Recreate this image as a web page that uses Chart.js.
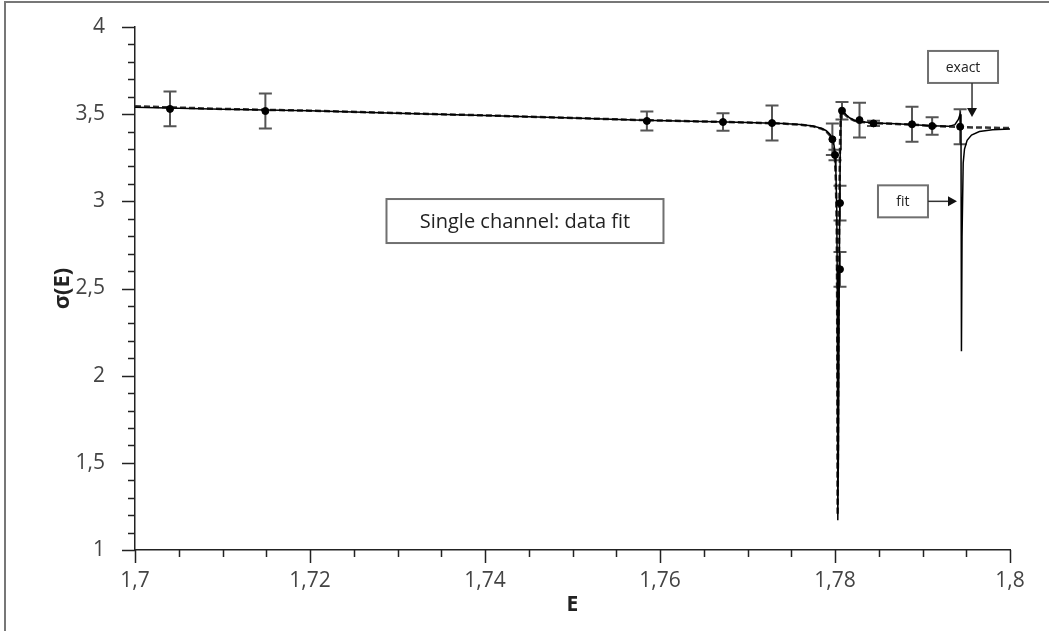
<!DOCTYPE html>
<html>
<head>
<meta charset="utf-8">
<script src="https://cdn.jsdelivr.net/npm/chart.js@4/dist/chart.umd.min.js"></script>
<style>
  html, body { margin: 0; padding: 0; background: #fff; }
  #wrap { position: relative; width: 1049px; height: 631px; overflow: hidden; }
  #frame { position: absolute; left: 4px; top: 1px; right: -10px; bottom: -10px;
           border-left: 2px solid #777; border-top: 2px solid #777; pointer-events: none; }
  canvas { display: block; }
</style>
</head>
<body>
<div id="wrap">
  <canvas id="sigmaChart" width="1049" height="631"></canvas>
  <div id="frame"></div>
</div>
<script>
// tick labels
const xTicks = [1.7, 1.72, 1.74, 1.76, 1.78, 1.8];
const yTicks = [1, 1.5, 2, 2.5, 3, 3.5, 4];

// measured cross section with errors
const dataE     = [1.7040, 1.7149, 1.7585, 1.7672, 1.7728, 1.7797, 1.7800, 1.78057, 1.78057, 1.7808, 1.7828, 1.7844, 1.7888, 1.7911, 1.7943];
const dataSigma = [3.530, 3.518, 3.461, 3.455, 3.449, 3.356, 3.266, 2.99, 2.61, 3.52, 3.466, 3.447, 3.442, 3.432, 3.428];
const dataErr   = [0.10, 0.10, 0.055, 0.05, 0.10, 0.09, 0.03, 0.10, 0.10, 0.05, 0.10, 0.015, 0.10, 0.05, 0.10];

// exact curve
const exactE     = [1.700, 1.710, 1.720, 1.730, 1.740, 1.750, 1.758, 1.765, 1.770, 1.774, 1.776, 1.7775, 1.7785, 1.7790, 1.7794, 1.7797, 1.7799, 1.7800, 1.7801, 1.7802, 1.78025, 1.78030, 1.78038, 1.78048, 1.78058, 1.78066, 1.7808, 1.7810, 1.7813, 1.7817, 1.7822, 1.7830, 1.7845, 1.7870, 1.7890, 1.7910, 1.7930, 1.7950, 1.7970, 1.8000];
const exactSigma = [3.545, 3.530, 3.520, 3.506, 3.493, 3.478, 3.466, 3.458, 3.452, 3.446, 3.440, 3.430, 3.416, 3.402, 3.380, 3.350, 3.300, 3.240, 3.120, 2.850, 2.400, 1.200, 2.100, 2.900, 3.350, 3.500, 3.515, 3.505, 3.490, 3.475, 3.463, 3.455, 3.449, 3.444, 3.439, 3.433, 3.429, 3.425, 3.423, 3.420];

// fitted curve
const fitE     = [1.700, 1.710, 1.720, 1.730, 1.740, 1.750, 1.758, 1.765, 1.770, 1.774, 1.776, 1.7775, 1.7785, 1.7790, 1.7794, 1.7797, 1.7799, 1.7800, 1.7801, 1.7802, 1.78025, 1.7803, 1.78034, 1.78040, 1.78050, 1.78060, 1.78068, 1.7808, 1.7810, 1.7813, 1.7817, 1.7822, 1.7830, 1.7845, 1.7870, 1.7890, 1.7910, 1.7930, 1.7937, 1.7941, 1.7943, 1.79440, 1.79445, 1.79452, 1.79465, 1.7948, 1.7951, 1.7956, 1.7965, 1.7980, 1.8000];
const fitSigma = [3.540, 3.528, 3.520, 3.505, 3.492, 3.478, 3.465, 3.458, 3.452, 3.446, 3.441, 3.432, 3.418, 3.405, 3.385, 3.360, 3.320, 3.260, 3.170, 2.950, 2.600, 1.900, 1.170, 1.600, 2.700, 3.300, 3.520, 3.525, 3.512, 3.495, 3.478, 3.465, 3.456, 3.450, 3.445, 3.440, 3.434, 3.430, 3.440, 3.470, 3.500, 3.400, 2.140, 2.800, 3.220, 3.300, 3.350, 3.380, 3.400, 3.410, 3.415];

const toPoints = (xs, ys) => xs.map((x, i) => ({ x: x, y: ys[i] }));
const FONT = '"Open Sans", "DejaVu Sans", sans-serif';
const INK = '#222';

// vertical error bars with caps
const errorBars = {
    id: 'errorBars',
    beforeDatasetsDraw(chart) {
        const { ctx, scales: { x, y } } = chart;
        ctx.save();
        ctx.strokeStyle = '#555';
        ctx.lineWidth = 2;
        dataE.forEach((e, i) => {
            const px = x.getPixelForValue(e);
            const top = y.getPixelForValue(dataSigma[i] + dataErr[i]);
            const bot = y.getPixelForValue(dataSigma[i] - dataErr[i]);
            ctx.beginPath();
            ctx.moveTo(px, top); ctx.lineTo(px, bot);
            ctx.moveTo(px - 6.5, top); ctx.lineTo(px + 6.5, top);
            ctx.moveTo(px - 6.5, bot); ctx.lineTo(px + 6.5, bot);
            ctx.stroke();
        });
        ctx.restore();
    }
};

// major and minor tick marks on both axes
const tickMarks = {
    id: 'tickMarks',
    afterDraw(chart) {
        const { ctx, scales: { x, y } } = chart;
        ctx.save();
        ctx.strokeStyle = INK;
        ctx.lineWidth = 1.5;
        ctx.beginPath();
        for (let i = 0; i <= 30; i++) {
            const py = Math.round(y.getPixelForValue(1 + i * 0.1)) + 0.5;
            const len = i % 5 === 0 ? 13 : 7;
            ctx.moveTo(y.right - len, py); ctx.lineTo(y.right, py);
        }
        for (let i = 0; i <= 20; i++) {
            const px = Math.round(x.getPixelForValue(1.7 + i * 0.005)) + 0.5;
            const len = i % 4 === 0 ? 13 : 7;
            ctx.moveTo(px, x.top); ctx.lineTo(px, x.top + len);
        }
        ctx.stroke();
        ctx.restore();
    }
};

// text boxes with pointer arrows
const notes = {
    id: 'notes',
    afterDraw(chart) {
        const { ctx, scales: { x, y } } = chart;
        const box = (cx, cy, w, h, text, size) => {
            ctx.fillStyle = '#fff';
            ctx.strokeStyle = '#707070';
            ctx.lineWidth = 2;
            ctx.fillRect(cx - w / 2, cy - h / 2, w, h);
            ctx.strokeRect(cx - w / 2, cy - h / 2, w, h);
            ctx.fillStyle = INK;
            ctx.font = size + 'px ' + FONT;
            ctx.textAlign = 'center';
            ctx.textBaseline = 'middle';
            ctx.fillText(text, cx, cy + 1);
        };
        const arrow = (x0, y0, x1, y1) => {
            const a = Math.atan2(y1 - y0, x1 - x0);
            ctx.strokeStyle = '#333';
            ctx.fillStyle = '#111';
            ctx.lineWidth = 1.5;
            ctx.beginPath();
            ctx.moveTo(x0, y0); ctx.lineTo(x1 - 8 * Math.cos(a), y1 - 8 * Math.sin(a));
            ctx.stroke();
            ctx.beginPath();
            ctx.moveTo(x1, y1);
            ctx.lineTo(x1 - 9 * Math.cos(a) + 5 * Math.sin(a), y1 - 9 * Math.sin(a) - 5 * Math.cos(a));
            ctx.lineTo(x1 - 9 * Math.cos(a) - 5 * Math.sin(a), y1 - 9 * Math.sin(a) + 5 * Math.cos(a));
            ctx.closePath();
            ctx.fill();
        };
        ctx.save();
        box(x.getPixelForValue(1.74457), y.getPixelForValue(2.887), 277, 44, 'Single channel: data fit', 20);

        const fx = x.getPixelForValue(1.79394), fy = y.getPixelForValue(3.0);
        box(fx - 54, fy, 50, 32, 'fit', 14);
        arrow(fx - 29, fy, fx, fy);

        const ex = x.getPixelForValue(1.79566), ey = y.getPixelForValue(3.484);
        box(ex - 9, ey - 50, 70, 32, 'exact', 14);
        arrow(ex, ey - 34, ex, ey);
        ctx.restore();
    }
};

const ctx = document.getElementById('sigmaChart').getContext('2d');

new Chart(ctx, {
    type: 'scatter',
    data: {
        datasets: [
            {
                label: 'data',
                data: toPoints(dataE, dataSigma),
                pointRadius: 3.5,
                pointBackgroundColor: '#000',
                pointBorderColor: '#000',
                showLine: false,
                order: 0
            },
            {
                label: 'fit',
                data: toPoints(fitE, fitSigma),
                showLine: true,
                pointRadius: 0,
                borderColor: '#000',
                borderWidth: 1.5,
                tension: 0,
                order: 1
            },
            {
                label: 'exact',
                data: toPoints(exactE, exactSigma),
                showLine: true,
                pointRadius: 0,
                borderColor: '#333',
                borderWidth: 2.5,
                borderDash: [6, 3],
                tension: 0,
                order: 2
            }
        ]
    },
    options: {
        responsive: false,
        animation: false,
        devicePixelRatio: 1,
        layout: { padding: { top: 27, right: 39, left: 0, bottom: 0 } },
        plugins: { legend: { display: false }, tooltip: { enabled: false } },
        scales: {
            x: {
                type: 'linear',
                min: 1.7,
                max: 1.8,
                grid: { display: false },
                border: { display: true, color: INK, width: 1.5 },
                afterBuildTicks: s => { s.ticks = xTicks.map(v => ({ value: v })); },
                afterFit: s => { s.height = 81; },
                ticks: {
                    padding: 10,
                    color: '#444',
                    font: { family: FONT, size: 21 },
                    maxRotation: 0,
                    callback: v => String(v).replace('.', ',')
                },
                title: {
                    display: true,
                    text: 'E',
                    color: INK,
                    font: { family: FONT, size: 21, weight: 'bold' },
                    padding: { top: 0, bottom: 13 }
                }
            },
            y: {
                type: 'linear',
                min: 1,
                max: 4,
                grid: { display: false },
                border: { display: true, color: INK, width: 1.5 },
                afterBuildTicks: s => { s.ticks = yTicks.map(v => ({ value: v })); },
                afterFit: s => { s.width = 135; s.paddingTop = 0; s.paddingBottom = 0; },
                ticks: {
                    padding: 22,
                    color: '#444',
                    font: { family: FONT, size: 21 },
                    callback: v => String(v).replace('.', ',')
                },
                title: {
                    display: true,
                    text: 'σ(E)',
                    color: INK,
                    font: { family: FONT, size: 22, weight: 'bold' },
                    padding: { top: 50, bottom: 0 }
                }
            }
        }
    },
    plugins: [errorBars, tickMarks, notes]
});
</script>
</body>
</html>
